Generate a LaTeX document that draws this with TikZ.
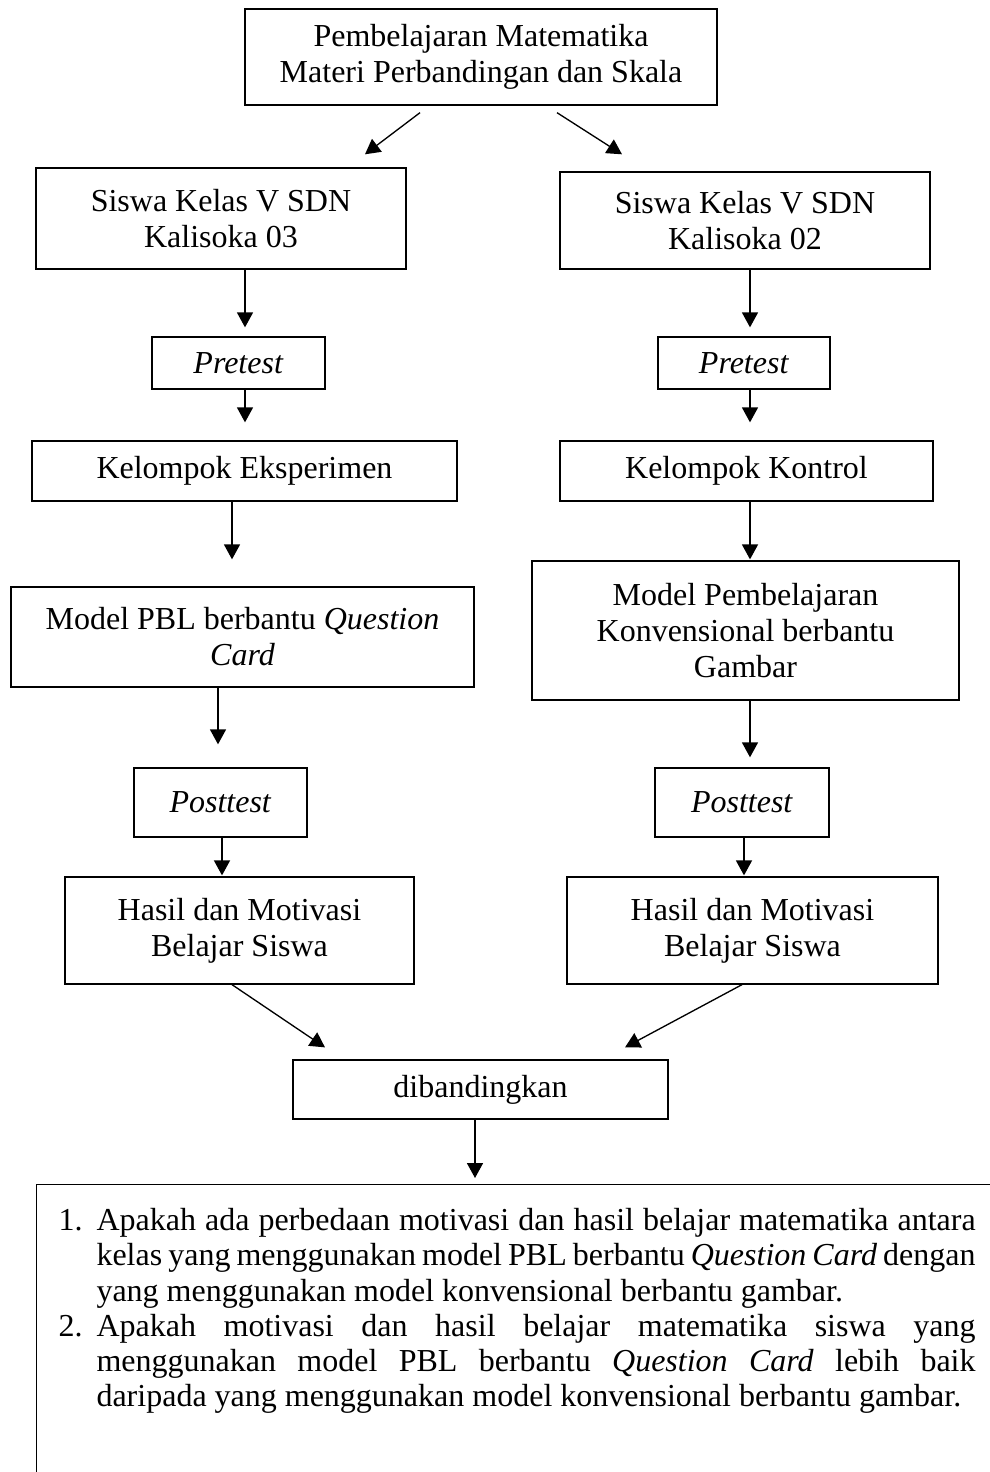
\documentclass[tikz,border=0pt]{standalone}
\usepackage{fontspec}
\setmainfont{Liberation Serif}
\usetikzlibrary{arrows.meta}
\tikzset{box/.style = {draw, line width = 0.5pt, inner sep = 0, align = center, font = {\fontsize{12}{13.5}\selectfont}}}
\tikzset{arr/.style = {-{Triangle[width = 6pt, length = 5.6pt]}, line width = 0.5pt}}

\begin{document}
\begin{tikzpicture}[x = 0.375pt, y = -0.375pt]
    \useasboundingbox (0, 0) rectangle (990, 1472);

    \node [box, minimum width = 177pt, minimum height = 36pt] (top) at (481, 57) {Pembelajaran Matematika\\Materi Perbandingan dan Skala};

    \node [box, minimum width = 138.75pt, minimum height = 37.9pt] (s03) at (221, 218.5) {Siswa Kelas V SDN\\Kalisoka 03};
    \node [box, minimum width = 138.75pt, minimum height = 36.4pt] (s02) at (745, 220.5) {Siswa Kelas V SDN\\Kalisoka 02};

    \node [box, minimum width = 64.9pt, minimum height = 19.5pt] (pre03) at (238.5, 363) {\textit{Pretest}};
    \node [box, minimum width = 64.5pt, minimum height = 19.5pt] (pre02) at (744, 363) {\textit{Pretest}};

    \node [box, minimum width = 159.4pt, minimum height = 22.5pt] (eksp) at (244.5, 471) {Kelompok Eksperimen};
    \node [box, minimum width = 139.9pt, minimum height = 22.5pt] (kontr) at (746.5, 471) {Kelompok Kontrol};

    \node [box, minimum width = 173.6pt, minimum height = 37.5pt] (pbl) at (242.5, 637) {Model PBL berbantu \textit{Question}\\\textit{Card}};
    \node [box, minimum width = 160.1pt, minimum height = 52.1pt] (konv) at (745.5, 630.5) {Model Pembelajaran\\Konvensional berbantu\\Gambar};

    \node [box, minimum width = 64.9pt, minimum height = 25.9pt] (post03) at (220.5, 802.5) {\textit{Posttest}};
    \node [box, minimum width = 65.25pt, minimum height = 25.9pt] (post02) at (742, 802.5) {\textit{Posttest}};

    \node [box, minimum width = 130.9pt, minimum height = 40.1pt] (hasil03) at (239.5, 930.5) {Hasil dan Motivasi\\Belajar Siswa};
    \node [box, minimum width = 139.1pt, minimum height = 40.1pt] (hasil02) at (752.5, 930.5) {Hasil dan Motivasi\\Belajar Siswa};

    \node [box, minimum width = 140.6pt, minimum height = 22.1pt] (banding) at (480.5, 1089.5) {dibandingkan};

    \node [draw, line width = 0.5pt, inner sep = 0, anchor = north west, minimum width = 362pt, minimum height = 110pt] (rumusan) at (36, 1184) {};
    \node [anchor = north west, inner sep = 0, text width = 343.9pt, align = justify, font = {\fontsize{12}{13.2}\selectfont}] (daftar) at (58, 1208) {%
        \hyphenpenalty=10000 \tolerance=9999 \spaceskip=3pt plus 8pt minus 1.5pt
        \hangindent=14.25pt \hangafter=1 \noindent\makebox[14.25pt][l]{1.}Apakah ada perbedaan motivasi dan hasil belajar matematika antara\linebreak kelas yang menggunakan model PBL berbantu \textit{Question Card} dengan\linebreak yang menggunakan model konvensional berbantu gambar.\par
        \hangindent=14.25pt \hangafter=1 \noindent\makebox[14.25pt][l]{2.}Apakah motivasi dan hasil belajar matematika siswa yang\linebreak menggunakan model PBL berbantu \textit{Question Card} lebih baik\linebreak daripada yang menggunakan model konvensional berbantu gambar.\par};

    \draw [arr] ([shift = {(-61, 7)}]top.south) -- ([shift = {(144, -13)}]s03.north);
    \draw [arr] ([shift = {(76, 7)}]top.south) -- ([shift = {(-123, -17)}]s02.north);

    \draw [arr] ([shift = {(24, 0)}]s03.south) -- ([shift = {(6.5, -9)}]pre03.north);
    \draw [arr] ([shift = {(5, 0)}]s02.south) -- ([shift = {(6, -9)}]pre02.north);

    \draw [arr] ([shift = {(6.5, 0)}]pre03.south) -- ([shift = {(0.5, -18)}]eksp.north);
    \draw [arr] ([shift = {(6, 0)}]pre02.south) -- ([shift = {(3.5, -18)}]kontr.north);

    \draw [arr] ([shift = {(-12.5, 0)}]eksp.south) -- ([shift = {(-10.5, -27)}]pbl.north);
    \draw [arr] ([shift = {(3.5, 0)}]kontr.south) -- ([shift = {(4.5, -1)}]konv.north);

    \draw [arr] ([shift = {(-24.5, 0)}]pbl.south) -- ([shift = {(-2.5, -23)}]post03.north);
    \draw [arr] ([shift = {(4.5, 0)}]konv.south) -- ([shift = {(8, -10)}]post02.north);

    \draw [arr] ([shift = {(1.5, 0)}]post03.south) -- ([shift = {(-17.5, -1)}]hasil03.north);
    \draw [arr] ([shift = {(2, 0)}]post02.south) -- ([shift = {(-8.5, -1)}]hasil02.north);

    \draw [arr] ([shift = {(-7.5, 0)}]hasil03.south) -- ([shift = {(-155.5, -12)}]banding.north);
    \draw [arr] ([shift = {(-10.5, 0)}]hasil02.south) -- ([shift = {(144.5, -12)}]banding.north);

    \draw [arr] ([shift = {(-5.5, 0)}]banding.south) -- ([shift = {(439, -6)}]rumusan.north west);
  \end{tikzpicture}
\end{document}
